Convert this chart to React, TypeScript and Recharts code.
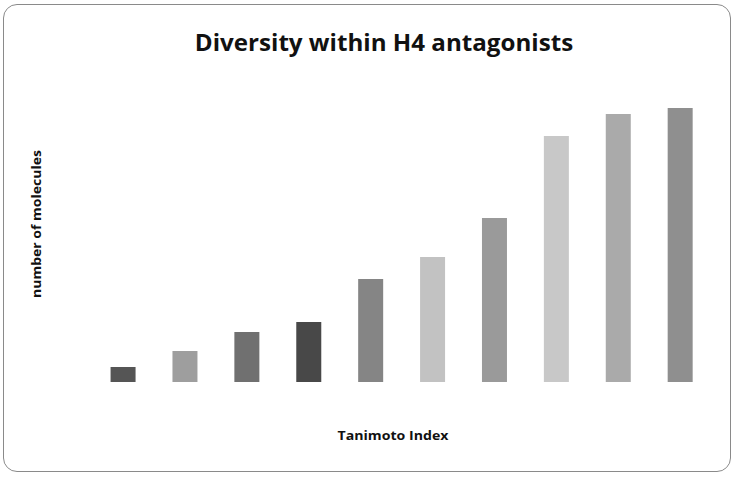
import { BarChart, Bar, Cell, XAxis, YAxis } from "recharts";

// Tanimoto index bins (tick labels are not printed on the chart)
const categories = ["0.1", "0.2", "0.3", "0.4", "0.5", "0.6", "0.7", "0.8", "0.9", "1.0"];
const molecules = [15, 31, 50, 60, 103, 125, 164, 246, 268, 274];
const barColors = [
  "#555555", "#9e9e9e", "#707070", "#484848", "#858585",
  "#c2c2c2", "#9a9a9a", "#c8c8c8", "#aaaaaa", "#8f8f8f",
];

const data = categories.map((c, i) => ({ bin: c, count: molecules[i] }));

const FONT = "'Open Sans', Lato, sans-serif";

const textBase = {
  position: "absolute" as const,
  whiteSpace: "nowrap" as const,
  fontFamily: FONT,
  fontWeight: 700,
  color: "#111",
  lineHeight: 1,
};

export default function App() {
  return (
    <div style={{ position: "absolute", left: 0, top: 0, width: 735, height: 478, background: "#fff" }}>
      {/* outer rounded frame */}
      <div
        style={{
          position: "absolute",
          left: 3,
          top: 4,
          width: 726,
          height: 466,
          border: "1.5px solid #8a8a8a",
          borderRadius: 14,
        }}
      />
      <div style={{ ...textBase, left: 384, top: 42, fontSize: 23, transform: "translate(-50%, -50%) scaleX(1.05)" }}>
        Diversity within H4 antagonists
      </div>
      <div
        style={{
          ...textBase,
          left: 37,
          top: 224,
          fontSize: 12.5,
          transform: "translate(-50%, -50%) rotate(-90deg) scaleX(1.12)",
        }}
      >
        number of molecules
      </div>
      <div style={{ ...textBase, left: 393, top: 436, fontSize: 12.5, transform: "translate(-50%, -50%) scaleX(1.13)" }}>
        Tanimoto Index
      </div>
      <div style={{ position: "absolute", left: 0, top: 0 }}>
        <BarChart
          width={735}
          height={478}
          data={data}
          margin={{ top: 82, bottom: 96, left: 92, right: 24 }}
          barCategoryGap="30%"
        >
          <XAxis dataKey="bin" hide />
          <YAxis domain={[0, 300]} hide />
          <Bar dataKey="count" isAnimationActive={false}>
            {data.map((d, i) => (
              <Cell key={d.bin} fill={barColors[i]} />
            ))}
          </Bar>
        </BarChart>
      </div>
    </div>
  );
}
